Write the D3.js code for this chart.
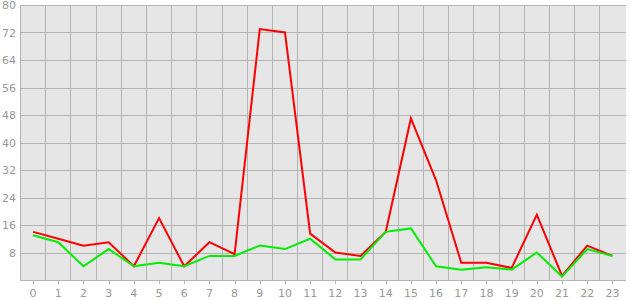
<!DOCTYPE html>
<html><head><meta charset="utf-8">
<script src="https://cdn.jsdelivr.net/npm/d3@7"></script>
<style>body{margin:0;background:#fff}svg{display:block}</style>
</head><body>
<script>
const categories = ["0","1","2","3","4","5","6","7","8","9","10","11","12","13","14","15","16","17","18","19","20","21","22","23"];
const redValues = [14,12,10,11,4,18,4,11,7.5,73,72,13.5,8,7,14,47,29,5,5,3.5,19,1.2,10,7];
const greenValues = [13,11,4,9,4,5,4,7,7,10,9,12,6,6,14,15,4,3,3.7,3,8,1,9,7];
const yTicks = [8,16,24,32,40,48,56,64,72,80];

const W = 630, H = 300;
const svg = d3.select("body").append("svg").attr("width", W).attr("height", H);
const x = d3.scaleBand().domain(categories).range([20.5, 625]);
const y = d3.scaleLinear().domain([0, 80]).range([280, 5]);

svg.append("rect").attr("x", 20).attr("y", 5).attr("width", 606).attr("height", 275).attr("fill", "#e6e6e6");

const grid = "#b4b4b4";
// vertical grid at band boundaries
const bounds = categories.map(c => x(c));
svg.append("g").selectAll("line").data(bounds).join("line")
  .attr("x1", d => Math.floor(d) + 0.5).attr("x2", d => Math.floor(d) + 0.5)
  .attr("y1", 5).attr("y2", 280).attr("stroke", grid).attr("stroke-width", 1);
// horizontal grid
svg.append("g").selectAll("line").data([0].concat(yTicks)).join("line")
  .attr("x1", 20).attr("x2", 626)
  .attr("y1", d => Math.round(y(d)) + 0.5).attr("y2", d => Math.round(y(d)) + 0.5)
  .attr("stroke", grid).attr("stroke-width", 1);

// x ticks and labels
const xa = svg.append("g");
xa.selectAll("line").data(categories).join("line")
  .attr("x1", d => Math.round(x(d) + x.bandwidth() / 2) + 0.5)
  .attr("x2", d => Math.round(x(d) + x.bandwidth() / 2) + 0.5)
  .attr("y1", 280).attr("y2", 284).attr("stroke", grid);
xa.selectAll("text").data(categories).join("text")
  .attr("x", d => x(d) + x.bandwidth() / 2).attr("y", 297)
  .attr("text-anchor", "middle").attr("font-family", "DejaVu Sans").attr("font-size", 11)
  .attr("fill", "#999").text(d => d);

// y labels
svg.append("g").selectAll("text").data(yTicks).join("text")
  .attr("x", 16).attr("y", d => y(d) + 4)
  .attr("text-anchor", "end").attr("font-family", "DejaVu Sans").attr("font-size", 11)
  .attr("fill", "#999").text(d => d);

const line = d3.line().x((d, i) => x(categories[i]) + x.bandwidth() / 2).y(d => y(d));
svg.append("path").datum(redValues).attr("d", line).attr("fill", "none")
  .attr("stroke", "#ff0000").attr("stroke-width", 2);
svg.append("path").datum(greenValues).attr("d", line).attr("fill", "none")
  .attr("stroke", "#00ee00").attr("stroke-width", 2);
</script>
</body></html>
